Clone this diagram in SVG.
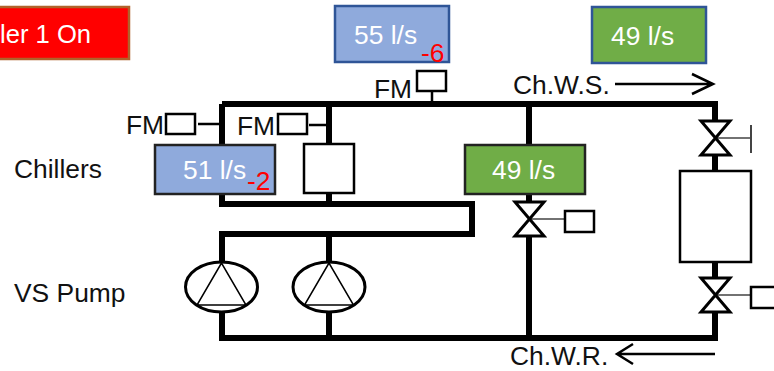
<svg xmlns="http://www.w3.org/2000/svg" width="774" height="371" viewBox="0 0 774 371">
<style>
text{font-family:"Liberation Sans",Arial,sans-serif;font-size:26.4px;fill:#111}
.w{fill:#fff}
.r{fill:#f00}
.p{fill:none;stroke:#000;stroke-width:6}
.t{fill:none;stroke:#000;stroke-width:2.5}
.b{fill:#fff;stroke:#000;stroke-width:2.5}
.v{fill:#fff;stroke:#000;stroke-width:3}
.g{stroke:#444;stroke-width:1.5;fill:none}
.tri{fill:none;stroke:#000;stroke-width:1.5}
.pump{fill:#fff;stroke:#000;stroke-width:3}
</style>
<g id="connectors">
<path class="p" d="M222 104H715V120M222 104V144M329 104V144M529 104V144M222 194V204H472V234H222V262M329 194V204M329 234V262M222 311V338H715V313M329 311V338M529 194V201M529 237V338M715 156V170M715 262V277"/>
<path class="t" d="M198 124H220M309 125H327"/>
<path class="t" d="M432 91V106"/>
<path class="g" d="M529 219H565M715 138H751M715 295H751"/>
<path class="g" style="stroke-width:2" d="M751 125V153"/>
<path class="t" d="M615 84H712M692 74L713 84L692 94"/>
<path class="t" d="M715 354H618M633 344L617 354L633 364"/>
</g>
<g id="status"><rect x="-10" y="7" width="139" height="52" fill="#f00" stroke="#b0622a" stroke-width="2.5"/><text class="w" x="0" y="43" style="font-size:25.6px">ler 1 On</text></g>
<g id="flow-total"><rect x="335" y="6" width="114" height="56" fill="#8faadc" stroke="#2f5597" stroke-width="2.5"/><text class="w" x="354" y="44">55 l/s</text><text class="r" x="421" y="62">-6</text></g>
<g id="flow-load"><rect x="592" y="7" width="114" height="56" fill="#70ad47" stroke="#2f5597" stroke-width="2.5"/><text class="w" x="611" y="45">49 l/s</text></g>
<g id="fm-top"><rect class="b" x="417" y="71" width="29" height="20"/><text x="374" y="98">FM</text></g>
<g id="fm-1"><rect class="b" x="166" y="114" width="29" height="20"/><text x="126" y="134">FM</text></g>
<g id="fm-2"><rect class="b" x="278" y="114" width="29" height="20"/><text x="237" y="135">FM</text></g>
<g id="chiller-1"><rect x="155" y="145" width="120" height="49" fill="#8faadc" stroke="#222" stroke-width="2.5"/><text class="w" x="183" y="179">51 l/s</text><text class="r" x="247" y="190">-2</text></g>
<g id="chiller-2"><rect class="b" x="304" y="144" width="50" height="49"/></g>
<g id="bypass-flow"><rect x="465" y="145" width="120" height="49" fill="#70ad47" stroke="#222" stroke-width="2.5"/><text class="w" x="492" y="179">49 l/s</text></g>
<g id="label-chillers"><text x="14" y="178">Chillers</text></g>
<g id="label-pump"><text x="14" y="302">VS Pump</text></g>
<g id="pump-1"><ellipse class="pump" cx="221.500" cy="287" rx="36" ry="25"/><path class="tri" d="M221.500 263L197 305H246Z"/></g>
<g id="pump-2"><ellipse class="pump" cx="329" cy="287" rx="36" ry="25"/><path class="tri" d="M329 263L304.500 305H353.500Z"/></g>
<g id="valve-bypass"><path class="v" d="M515 202H544L515 236H544Z"/><rect class="b" x="565" y="211" width="29" height="21"/></g>
<g id="valve-top"><path class="v" d="M701 121H730L701 155H730Z"/></g>
<g id="load"><rect class="b" x="680" y="171" width="71" height="91"/></g>
<g id="valve-bottom"><path class="v" d="M701 278H730L701 312H730Z"/><rect class="b" x="751" y="287" width="29" height="21"/></g>
<g id="label-chws"><text x="513" y="94">Ch.W.S.</text></g>
<g id="label-chwr"><text x="510" y="365">Ch.W.R.</text></g>
</svg>
